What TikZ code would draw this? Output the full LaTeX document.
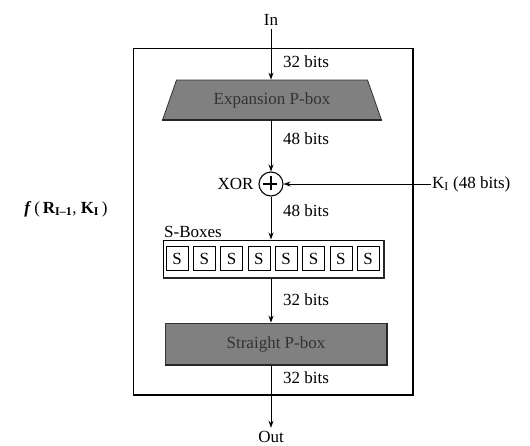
\documentclass[tikz,border=0pt]{standalone}
\usepackage{fontspec}
\setmainfont{Liberation Serif}
\usetikzlibrary{shapes.geometric,arrows.meta}
\begin{document}
\begin{tikzpicture}[x=1pt,y=-1pt,
            font=\fontsize{17}{19}\selectfont,
            arr/.style={-{Stealth[length=7pt,width=5pt]}, line width=0.9pt},
            pboxfill/.style={fill=black!50, draw=black!80, line width=0.8pt, text=black!80},
            bits/.style={anchor=west, inner sep=1pt},
            edge/.style={line width=2pt, black!85},
            sbox/.style={draw, line width=0.6pt, minimum width=22pt, minimum height=24pt, inner sep=0pt}
        ]
            \useasboundingbox (0,0) rectangle (530,445);

            \draw[line width=0.9pt] (133,48) rectangle (413,395);
            \draw[line width=2.4pt] (413,48) -- (413,395) -- (133,395);

            \node (in) at (271,20) {In};
            \node[trapezium, trapezium stretches=true, trapezium left angle=61, trapezium right angle=61,
                  minimum width=219pt, minimum height=40pt, inner sep=0pt, pboxfill] (exp) at (272,100) {Expansion P-box};
            \draw[edge] (exp.bottom left corner) -- (exp.bottom right corner);
            \node[circle, draw, line width=1.1pt, minimum size=24pt, inner sep=0pt] (xor) at (271,184) {};
            \draw[line width=1.1pt] (xor.north) ++(0,5) -- ++(0,14) (xor.west) ++(5,0) -- ++(14,0);
            \node[anchor=east] (xorlab) at (257,184) {XOR};
            \node[anchor=west, inner sep=1pt] (key) at (431,184) {K\textsubscript{I} (48 bits)};
            \node[draw, line width=1pt, minimum width=220pt, minimum height=37pt, inner sep=0pt] (sboxes) at (273,258.5) {};
            \draw[edge] (sboxes.north east) -- (sboxes.south east) -- (sboxes.south west);
            \node[anchor=south west, inner sep=1pt] (sblab) at (163,239) {S-Boxes};
            \foreach \i in {0,...,7}
                \node[sbox] (s\i) at (177+27.3*\i,258.5) {S};
            \node[rectangle, minimum width=222pt, minimum height=42pt, inner sep=0pt, pboxfill] (pbox) at (276,344) {Straight P-box};
            \draw[edge] (pbox.north east) -- (pbox.south east) -- (pbox.south west);
            \node (out) at (271,437) {Out};
            \node (flab) at (66,209) {\textbf{\textit{f}}\,(\,\textbf{R}\textsubscript{\textbf{I–1}}, \textbf{K}\textsubscript{\textbf{I}}\,)};

            \draw[arr] (in.south) -- (in.south |- exp.north);
            \draw[arr] (exp.south -| xor) -- (xor.north);
            \draw[arr] (key.west) -- (xor.east);
            \draw[arr] (xor.south) -- (xor |- sboxes.north);
            \draw[arr] (xor |- sboxes.south) -- (xor |- pbox.north);
            \draw[arr] (xor |- pbox.south) -- (out.north);

            \node[bits] (b1) at (282,62) {32 bits};
            \node[bits] (b2) at (282,139) {48 bits};
            \node[bits] (b3) at (282,211) {48 bits};
            \node[bits] (b4) at (282,300) {32 bits};
            \node[bits] (b5) at (282,378) {32 bits};

        \end{tikzpicture}
\end{document}
